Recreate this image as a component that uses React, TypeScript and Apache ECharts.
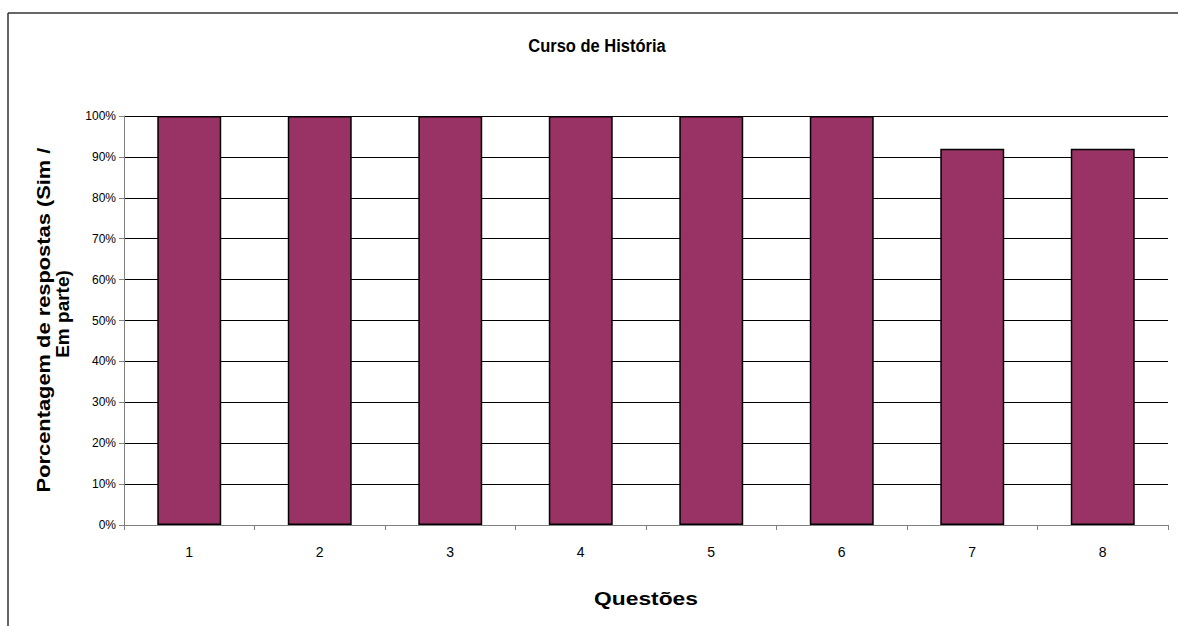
import React, { useEffect, useRef } from "react";
import * as echarts from "echarts";

const categories = ["1", "2", "3", "4", "5", "6", "7", "8"];
const values = [100, 100, 100, 100, 100, 100, 92, 92];
const titleText = "Curso de História";
const xName = "Questões";
const yNameLine1 = "Porcentagem de respostas (Sim /";
const yNameLine2 = "Em parte)";

export default function App() {
  const ref = useRef<HTMLDivElement>(null);
  useEffect(() => {
    const chart = echarts.init(ref.current!, null, { renderer: "svg" });
    const font = "'Liberation Sans', Arial, sans-serif";
    const bold = { fontFamily: font, fontWeight: "bold", fill: "#000", align: "center", verticalAlign: "middle" };
    chart.setOption({
      animation: false,
      backgroundColor: "#ffffff",
      textStyle: { fontFamily: font },
      graphic: [
        {
          type: "line",
          shape: { x1: 8, y1: 13, x2: 1178, y2: 13 },
          style: { stroke: "#333", lineWidth: 1.5 },
          silent: true,
        },
        {
          type: "line",
          shape: { x1: 8, y1: 13, x2: 8, y2: 626 },
          style: { stroke: "#333", lineWidth: 1.5 },
          silent: true,
        },
        {
          type: "text",
          x: 597,
          y: 46,
          scaleY: 1.1,
          style: { ...bold, text: titleText, fontSize: 16.5 },
        },
        {
          type: "text",
          x: 646,
          y: 598,
          scaleX: 1.2,
          style: { ...bold, text: xName, fontSize: 19 },
        },
        {
          type: "text",
          x: 43,
          y: 320,
          rotation: Math.PI / 2,
          scaleX: 1.15,
          style: { ...bold, text: yNameLine1, fontSize: 19 },
        },
        {
          type: "text",
          x: 62,
          y: 314,
          rotation: Math.PI / 2,
          style: { ...bold, text: yNameLine2, fontSize: 19 },
        },
      ],
      grid: { left: 124, top: 116, right: 10, bottom: 101, containLabel: false },
      xAxis: {
        type: "category",
        data: categories,
        axisLine: { lineStyle: { color: "#808080", width: 1 } },
        axisTick: { show: true, length: 5, lineStyle: { color: "#808080" } },
        axisLabel: { fontFamily: font, fontSize: 14, color: "#000", margin: 20 },
      },
      yAxis: {
        type: "value",
        min: 0,
        max: 100,
        interval: 10,
        axisLine: { show: true, lineStyle: { color: "#808080", width: 1 } },
        axisTick: { show: true, length: 5, lineStyle: { color: "#808080" } },
        axisLabel: { fontFamily: font, fontSize: 12, color: "#000", margin: 8, formatter: "{value}%" },
        splitLine: { show: true, lineStyle: { color: "#000", width: 1 } },
      },
      series: [
        {
          type: "bar",
          data: values,
          barWidth: "49%",
          itemStyle: { color: "#993366", borderColor: "#000", borderWidth: 1.5 },
        },
      ],
    });
    return () => chart.dispose();
  }, []);
  return (
    <div
      ref={ref}
      style={{ position: "fixed", left: 0, top: 0, width: 1178, height: 626 }}
    />
  );
}
